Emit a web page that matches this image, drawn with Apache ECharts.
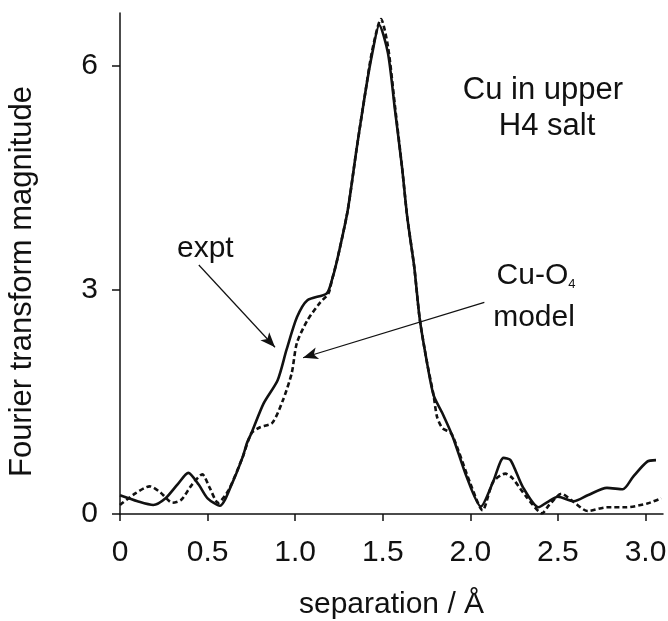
<!DOCTYPE html>
<html>
<head>
<meta charset="utf-8">
<title>Cu in upper H4 salt</title>
<script src="https://cdn.jsdelivr.net/npm/echarts@6/dist/echarts.min.js"></script>
<style>
  html, body { margin: 0; padding: 0; background: #fff; }
  #chart { width: 668px; height: 621px; }
</style>
</head>
<body>
<div id="chart"></div>
<script>
// experimental FT magnitude (solid)
const exptX = [0.00, 0.10, 0.19, 0.26, 0.33, 0.39, 0.45, 0.50, 0.57, 0.64, 0.70, 0.725, 0.75,
  0.82, 0.90, 0.95, 1.01, 1.07, 1.18, 1.21, 1.24, 1.30, 1.35, 1.40, 1.44, 1.48, 1.53, 1.57,
  1.61, 1.64, 1.68, 1.71, 1.75, 1.79, 1.84, 1.90, 1.98, 2.06, 2.13, 2.19, 2.23, 2.30, 2.39,
  2.44, 2.50, 2.59, 2.67, 2.78, 2.87, 2.93, 3.01, 3.06];
const exptY = [0.25, 0.17, 0.12, 0.21, 0.40, 0.55, 0.39, 0.21, 0.11, 0.41, 0.76, 0.95, 1.08,
  1.48, 1.79, 2.19, 2.63, 2.86, 2.95, 3.13, 3.40, 4.06, 4.87, 5.63, 6.16, 6.54, 6.16, 5.40,
  4.64, 3.97, 3.30, 2.63, 2.06, 1.59, 1.35, 1.03, 0.49, 0.10, 0.43, 0.75, 0.72, 0.36, 0.09,
  0.16, 0.23, 0.17, 0.25, 0.35, 0.33, 0.50, 0.70, 0.72];

// Cu-O4 model (dashed)
const modelX = [0.00, 0.09, 0.17, 0.23, 0.30, 0.35, 0.41, 0.47, 0.51, 0.56, 0.62, 0.70, 0.75,
  0.80, 0.87, 0.93, 0.98, 1.01, 1.07, 1.14, 1.19, 1.21, 1.24, 1.30, 1.35, 1.40, 1.44, 1.49,
  1.53, 1.57, 1.61, 1.64, 1.68, 1.71, 1.75, 1.79, 1.81, 1.84, 1.89, 1.93, 2.00, 2.07, 2.13,
  2.20, 2.24, 2.32, 2.41, 2.45, 2.52, 2.59, 2.67, 2.78, 2.89, 3.01, 3.09];
const modelY = [0.12, 0.28, 0.37, 0.29, 0.15, 0.19, 0.39, 0.53, 0.36, 0.15, 0.32, 0.76, 1.08,
  1.16, 1.22, 1.52, 1.88, 2.29, 2.59, 2.82, 2.95, 3.13, 3.40, 4.06, 4.87, 5.63, 6.20, 6.62,
  6.25, 5.45, 4.64, 3.97, 3.30, 2.63, 2.06, 1.59, 1.30, 1.15, 1.08, 0.86, 0.41, 0.05, 0.43,
  0.54, 0.48, 0.23, 0.01, 0.12, 0.27, 0.16, 0.04, 0.09, 0.09, 0.14, 0.21];

const xTicks = [0, 0.5, 1.0, 1.5, 2.0, 2.5, 3.0];
const yTicks = [0, 3, 6];

// annotation arrows, in data units: [from, to]
const exptArrow = [[0.45, 3.33], [0.885, 2.23]];
const modelArrow = [[2.08, 2.83], [1.045, 2.09]];

const zip = (xs, ys) => xs.map((x, i) => [x, ys[i]]);

const FONT = "Liberation Sans, Arial, sans-serif";
const INK = "#111";

const chart = echarts.init(document.getElementById("chart"), null, { renderer: "canvas" });

const arrowLine = (pair) => [
  { coord: pair[0], symbol: "none" },
  { coord: pair[1], symbol: "arrow", symbolSize: [9, 15] },
];

chart.setOption({
  backgroundColor: "#fff",
  animation: false,
  // keep the plot box fixed, names sit outside it like in the figure
  grid: { left: 120, right: 5, top: 13, bottom: 107, outerBoundsMode: "none", containLabel: false },
  xAxis: {
    type: "value",
    min: 0,
    max: 3.1,
    name: "separation / Å",
    nameLocation: "middle",
    nameGap: 76,
    nameTextStyle: { fontFamily: FONT, fontSize: 30, color: INK },
    axisLine: { lineStyle: { color: INK, width: 1.5 } },
    axisTick: { customValues: xTicks, length: 7, lineStyle: { color: INK, width: 1.5 } },
    axisLabel: {
      customValues: xTicks,
      margin: 24,
      fontFamily: FONT,
      fontSize: 30,
      color: INK,
      formatter: (v) => (v === 0 ? "0" : v.toFixed(1)),
    },
    splitLine: { show: false },
  },
  yAxis: {
    type: "value",
    min: 0,
    max: 6.7,
    name: "Fourier transform magnitude",
    nameLocation: "middle",
    nameGap: 82,
    nameRotate: 90,
    nameTextStyle: { fontFamily: FONT, fontSize: 31, color: INK, padding: [0, 36, 0, 0] },
    axisLine: { lineStyle: { color: INK, width: 1.5 } },
    axisTick: { customValues: yTicks, length: 8, lineStyle: { color: INK, width: 1.5 } },
    axisLabel: {
      customValues: yTicks,
      margin: 22,
      fontFamily: FONT,
      fontSize: 30,
      color: INK,
    },
    splitLine: { show: false },
  },
  series: [
    {
      name: "expt",
      type: "line",
      data: zip(exptX, exptY),
      smooth: 0.25,
      showSymbol: false,
      lineStyle: { color: INK, width: 2.6 },
      z: 3,
      markLine: {
        silent: true,
        label: { show: false },
        lineStyle: { color: INK, width: 1.2, type: "solid" },
        data: [arrowLine(exptArrow), arrowLine(modelArrow)],
      },
    },
    {
      name: "Cu-O4 model",
      type: "line",
      data: zip(modelX, modelY),
      smooth: 0.25,
      showSymbol: false,
      lineStyle: { color: INK, width: 2.6, type: [5, 3] },
      z: 2,
    },
  ],
  graphic: [
    {
      type: "text", left: 177, top: 234,
      style: { text: "expt", fontFamily: FONT, fontSize: 30, fill: INK },
    },
    {
      type: "text", x: 543, y: 90,
      style: { text: "Cu in upper", fontFamily: FONT, fontSize: 31, fill: INK, align: "center", verticalAlign: "middle" },
    },
    {
      type: "text", x: 547, y: 126,
      style: { text: "H4 salt", fontFamily: FONT, fontSize: 31, fill: INK, align: "center", verticalAlign: "middle" },
    },
    {
      type: "text", x: 536, y: 276,
      style: {
        text: "{a|Cu-O}{s|4}",
        align: "center",
        verticalAlign: "middle",
        rich: {
          a: { fontFamily: FONT, fontSize: 30, fill: INK },
          s: { fontFamily: FONT, fontSize: 13, fill: INK, padding: [16, 0, 0, 0] },
        },
      },
    },
    {
      type: "text", x: 534, y: 318,
      style: { text: "model", fontFamily: FONT, fontSize: 30, fill: INK, align: "center", verticalAlign: "middle" },
    },
  ],
});
</script>
</body>
</html>
